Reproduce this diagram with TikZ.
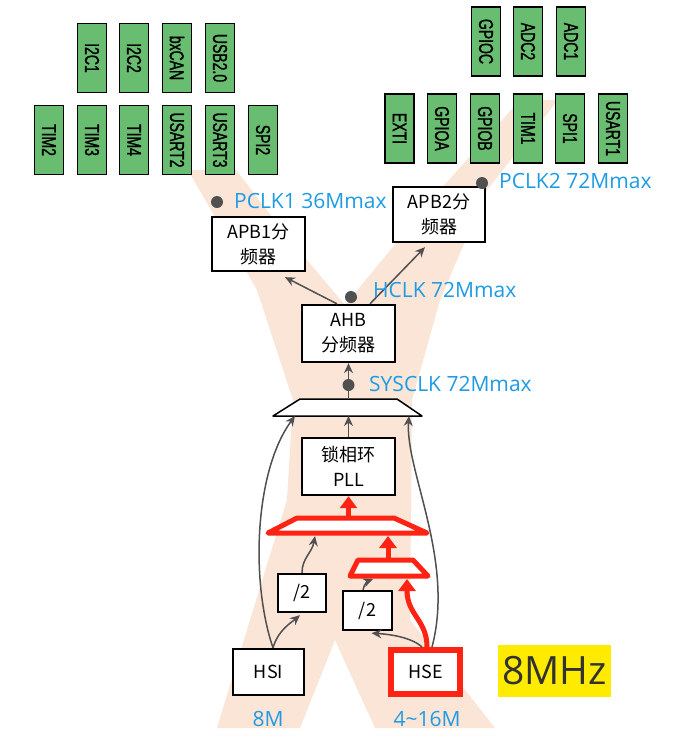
\documentclass[tikz,border=0pt]{standalone}
\usepackage{fontspec}
\setmainfont{Noto Sans CJK SC}
\newfontfamily\cjk{Noto Sans CJK SC}
\newfontfamily\narrowfont[FakeStretch=0.7,FakeBold=1.2]{Liberation Sans}
\newfontfamily\labfont{Open Sans}
\usetikzlibrary{arrows.meta}
\definecolor{peach}{RGB}{250,229,214}
\definecolor{gfill}{RGB}{104,189,112}
\definecolor{lblue}{RGB}{30,155,228}
\definecolor{dgray}{RGB}{80,80,80}
\definecolor{hred}{RGB}{255,35,20}
\definecolor{hyellow}{RGB}{255,235,0}
\definecolor{dtext}{RGB}{50,50,50}
\begin{document}
\begin{tikzpicture}[x=1pt,y=-1pt,
 gbox/.style={draw=black, line width=1.6pt, fill=gfill, rotate=-90, minimum width=69pt, minimum height=29pt, inner sep=0pt, font=\narrowfont\fontsize{20}{20}\selectfont},
 wbox/.style={draw=black, line width=1.8pt, fill=white, inner sep=0pt, align=center, font=\cjk\fontsize{18}{25}\selectfont},
 lbl/.style={text=lblue, anchor=base west, inner sep=0pt, font=\labfont\fontsize{21}{21}\selectfont},
 blbl/.style={text=lblue, anchor=base, inner sep=0pt, font=\labfont\fontsize{21}{21}\selectfont},
 dotn/.style={circle, fill=dgray, inner sep=0pt, minimum size=12pt},
 garrow/.style={draw=dgray, line width=1.5pt, -{Stealth[length=10pt,width=9pt]}},
 rarrow/.style={draw=hred, line width=5pt, -{Triangle[length=12pt,width=17pt]}},
 mux/.style={draw=black, line width=1.5pt, fill=white, line join=round},
 rmux/.style={draw=hred, line width=5pt, fill=white, line join=round}
]
\useasboundingbox (0,0) rectangle (675,740);
\fill[white] (0,0) rectangle (675,740);

% background shape
\fill[peach] (188,170) -- (236,170) -- (290,240) -- (345,305) -- (440,190) -- (520,100)
  -- (558,100) -- (487,190) -- (440,300) -- (412,400) -- (410,620) -- (495,728)
  -- (375,728) -- (335,640) -- (300,728) -- (217,728) -- (250,620) -- (287,500)
  -- (293,400) -- (257,290) -- cycle;

% green peripheral boxes, APB1 side
\node[gbox] (i2c1) at (92,58) {I2C1};
\node[gbox] (i2c2) at (134,58) {I2C2};
\node[gbox] (bxcan) at (177,58) {bxCAN};
\node[gbox] (usb) at (220,58) {USB2.0};
\node[gbox] (tim2) at (49,140) {TIM2};
\node[gbox] (tim3) at (92,140) {TIM3};
\node[gbox] (tim4) at (134,140) {TIM4};
\node[gbox] (usart2) at (177,140) {USART2};
\node[gbox] (usart3) at (220,140) {USART3};
\node[gbox] (spi2) at (263,140) {SPI2};
% APB2 side
\node[gbox] (gpioc) at (486,41.5) {GPIOC};
\node[gbox] (adc2) at (528,41.5) {ADC2};
\node[gbox] (adc1) at (571,41.5) {ADC1};
\node[gbox] (exti) at (399.5,128.5) {EXTI};
\node[gbox] (gpioa) at (442,128.5) {GPIOA};
\node[gbox] (gpiob) at (485,128.5) {GPIOB};
\node[gbox] (tim1) at (528,128.5) {TIM1};
\node[gbox] (spi1) at (570,128.5) {SPI1};
\node[gbox] (usart1) at (613,128.5) {USART1};

% multiplexers
\draw[mux] (300,399) -- (397,399) -- (422,416) -- (273,416) -- cycle;
\coordinate (m1t) at (348.5,399);
\coordinate (m1b) at (348.5,416);
\coordinate (m1l) at (295,416);
\coordinate (m1r) at (409,416);
\draw[rmux] (297,518) -- (394,518) -- (427,533) -- (268,533) -- cycle;
\coordinate (m2t) at (348.5,518);
\coordinate (m2l) at (315,536);
\coordinate (m2r) at (388,536);
\draw[rmux] (358,560) -- (413,560) -- (428,576) -- (350,576) -- cycle;
\coordinate (m3t) at (388,560);
\coordinate (m3l) at (373,579);
\coordinate (m3r) at (407,579);

% boxes
\node[wbox, minimum width=93.5pt, minimum height=54.5pt] (apb1) at (258.5,244) {APB1分\\频器};
\node[wbox, minimum width=92.5pt, minimum height=55.5pt] (apb2) at (439,214.5) {APB2分\\频器};
\node[wbox, minimum width=93.5pt, minimum height=57.5pt] (ahb) at (348.5,333.5) {AHB\\分频器};
\node[wbox, minimum width=93.5pt, minimum height=57.5pt] (pll) at (348.5,466.5) {锁相环\\PLL};
\node[wbox, minimum width=48.5pt, minimum height=38.5pt] (div1) at (302,593) {/2};
\node[wbox, minimum width=49.5pt, minimum height=39.5pt] (div2) at (367.5,610.5) {/2};
\node[wbox, minimum width=71.5pt, minimum height=46.5pt] (hsi) at (268.5,672) {HSI};
\node[wbox, draw=hred, line width=6pt, minimum width=69pt, minimum height=44pt] (hse) at (425.5,672) {HSE};

% connectors
\draw[garrow] (m1t) -- (m1t |- ahb.south);
\draw[garrow] ([xshift=-11.5pt]ahb.north) -- ([xshift=26.5pt,yshift=-5pt]apb1.south);
\draw[garrow] ([xshift=21.5pt]ahb.north) -- ([xshift=-14pt,yshift=-4pt]apb2.south);
\draw[garrow] (pll.north) -- (m1b);
\draw[rarrow] (m2t) -- (pll.south);
\draw[rarrow] (m3t) -- (m2r);
\draw[garrow] ([xshift=4.5pt]hsi.north) .. controls (278,630) and (292,622) .. ([xshift=-2pt,yshift=-2pt]div1.south);
\draw[garrow] ([xshift=4.5pt]hsi.north) .. controls (250,580) and (255,470) .. (m1l);
\draw[garrow] (div1.north) .. controls (302,558) and (312,553) .. (m2l);
\draw[garrow] ([xshift=-3.5pt]hse.north) .. controls (410,636) and (385,634) .. ([xshift=4pt,yshift=-2pt]div2.south);
\draw[garrow] ([xshift=-4.5pt]div2.north) .. controls (364,584) and (368,581) .. (m3l);
\draw[rarrow] ([xshift=1.5pt]hse.north) .. controls (427,620) and (407,615) .. (m3r);
\draw[garrow] ([xshift=6.5pt]hse.north) .. controls (455,560) and (405,470) .. (m1r);

% clock dots
\node[dotn] (sysdot) at (348.5,385) {};
\node[dotn] (hdot) at (351,297) {};
\node[dotn] (p1dot) at (217,202) {};
\node[dotn] (p2dot) at (482,183) {};

% labels
\node[lbl] (l1) at (234,208) {PCLK1 36Mmax};
\node[lbl] (l2) at (499,188) {PCLK2 72Mmax};
\node[lbl] (l3) at (373,297) {HCLK 72Mmax};
\node[lbl] (l4) at (369,391) {SYSCLK 72Mmax};
\node[blbl] (l5) at (268,726) {8M};
\node[blbl] (l6) at (427,726) {4\textasciitilde16M};
\node[fill=hyellow, minimum width=113pt, minimum height=52pt, inner sep=0pt, text=dtext, font=\labfont\fontsize{39}{39}\selectfont] (mhz) at (554.5,671) {8MHz};
\end{tikzpicture}
\end{document}
